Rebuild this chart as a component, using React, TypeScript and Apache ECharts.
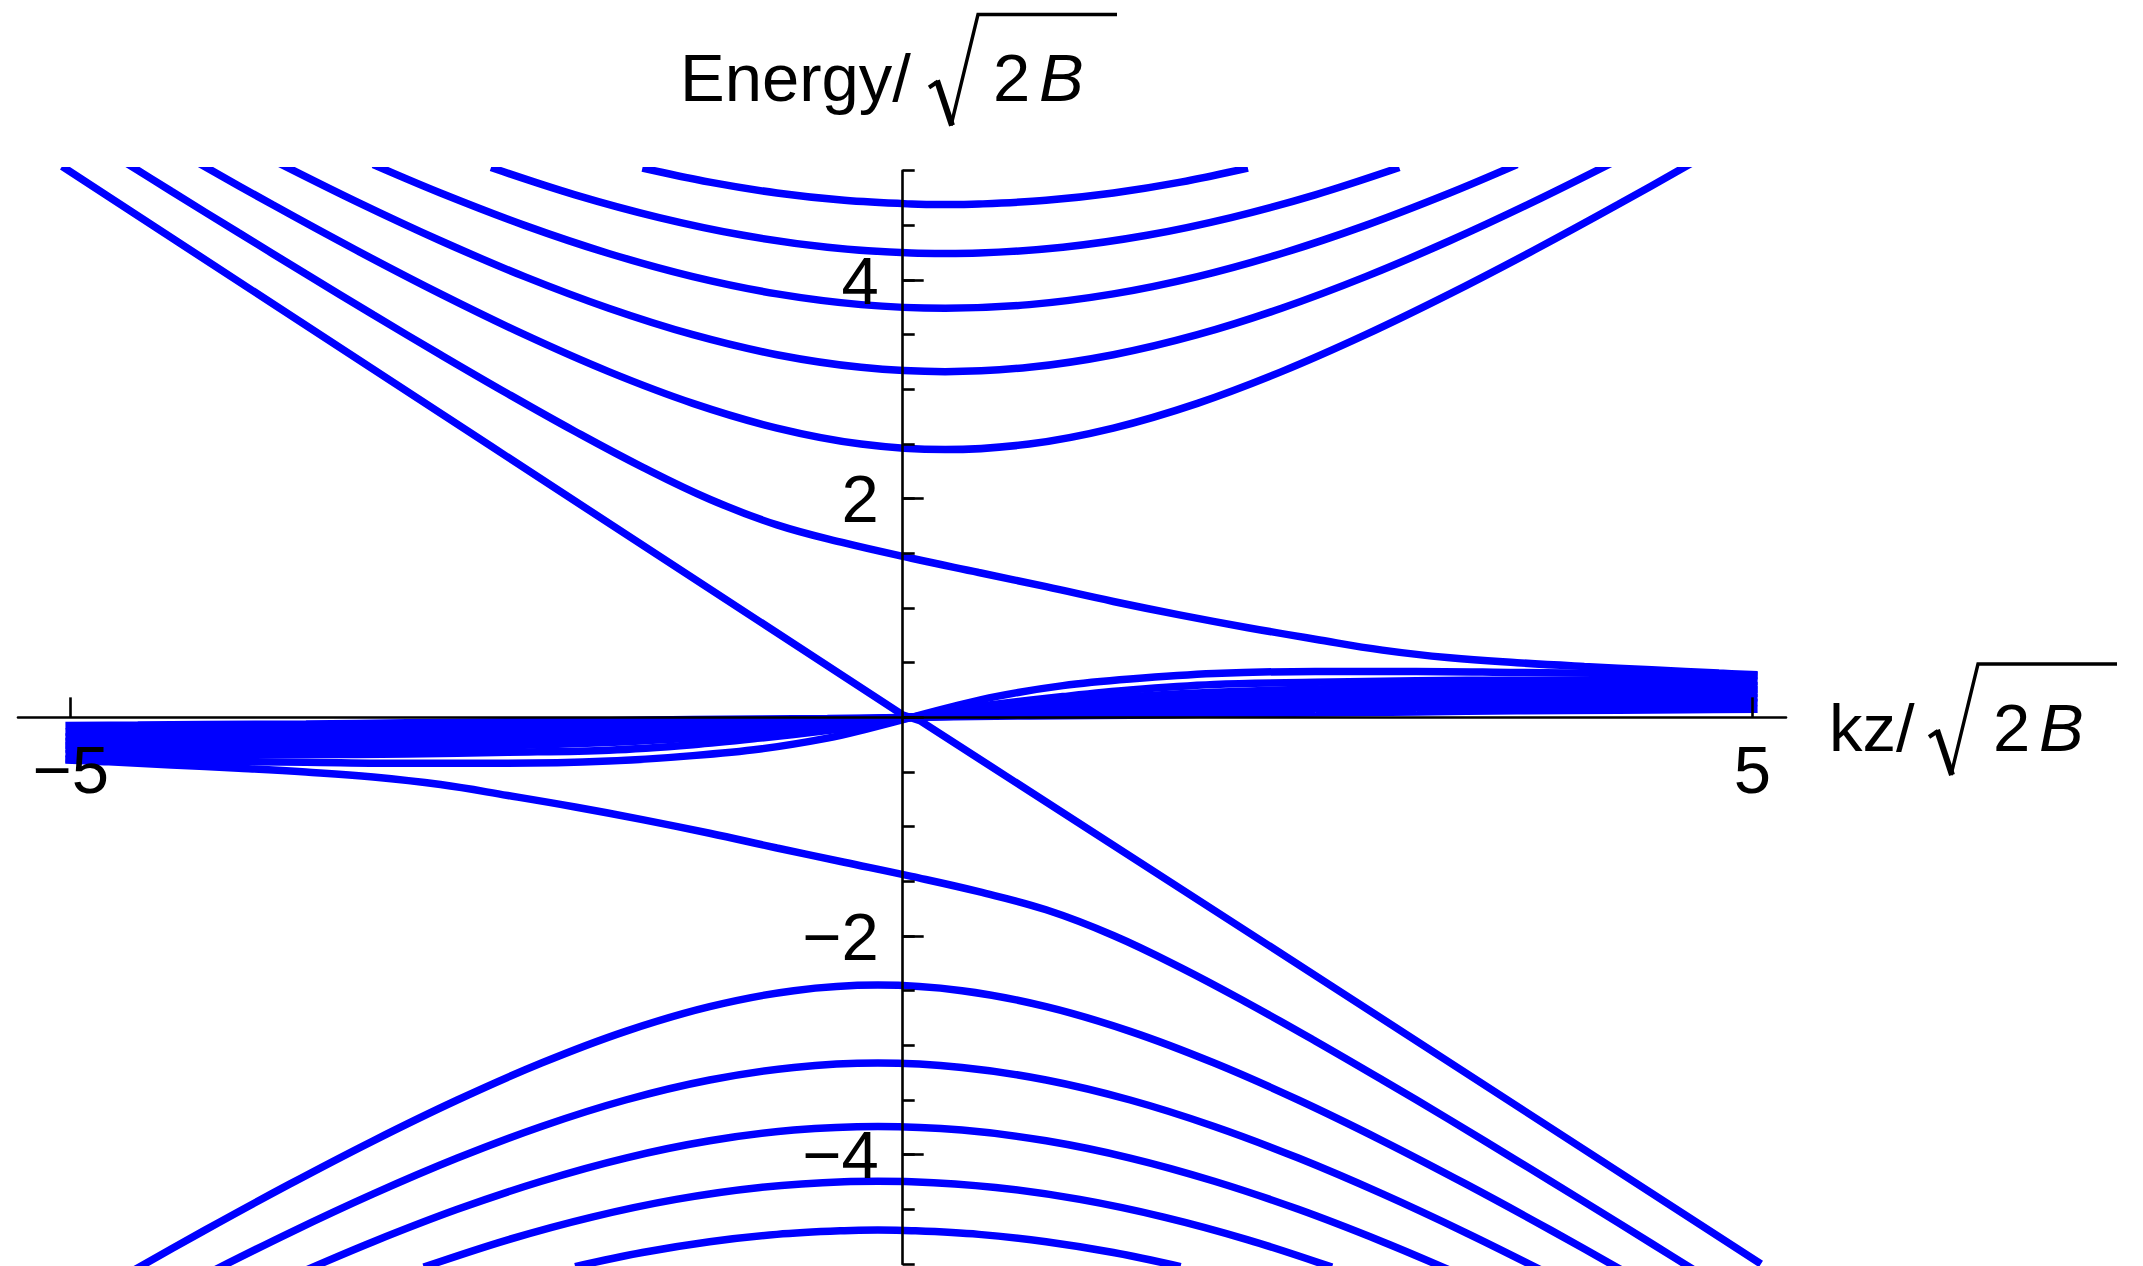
import { useEffect, useRef } from "react";
import * as echarts from "echarts";

// Landau-level spectrum: energy vs kz, both in units of sqrt(2B).
// Each branch is a list of [kz, energy] samples.

const upperLevel1: [number, number][] = [
  [-1.6, 5.024], [-1.2, 4.895], [-0.8, 4.796], [-0.4, 4.729], [0, 4.695], [0.2, 4.69],
  [0.4, 4.695], [0.8, 4.729], [1.2, 4.796], [1.6, 4.895], [2.0, 5.024],
];
const upperLevel2: [number, number][] = [
  [-2.5, 5.029], [-2.0, 4.779], [-1.5, 4.571], [-1.0, 4.409], [-0.5, 4.3], [0, 4.247], [0.2, 4.243],
  [0.4, 4.247], [0.9, 4.3], [1.4, 4.409], [1.9, 4.571], [2.4, 4.779], [2.9, 5.029],
];
const upperLevel3: [number, number][] = [
  [-3.2, 5.056], [-2.8, 4.796], [-2.3, 4.5], [-1.8, 4.243], [-1.3, 4.031], [-0.8, 3.873], [-0.3, 3.775],
  [0.2, 3.742], [0.7, 3.775], [1.2, 3.873], [1.7, 4.031], [2.2, 4.243], [2.7, 4.5], [3.2, 4.796], [3.6, 5.056],
];
const upperLevel4: [number, number][] = [
  [-3.8, 5.099], [-3.3, 4.717], [-2.8, 4.359], [-2.3, 4.031], [-1.8, 3.742], [-1.3, 3.5], [-0.8, 3.317],
  [-0.3, 3.202], [0.2, 3.162], [0.7, 3.202], [1.2, 3.317], [1.7, 3.5], [2.2, 3.742], [2.7, 4.031],
  [3.2, 4.359], [3.7, 4.717], [4.2, 5.099],
];
const upperLevel5: [number, number][] = [
  [-4.3, 5.123], [-3.8, 4.69], [-3.3, 4.272], [-2.8, 3.873], [-2.3, 3.5], [-1.8, 3.162], [-1.3, 2.872],
  [-0.8, 2.646], [-0.3, 2.5], [0.2, 2.449], [0.7, 2.5], [1.2, 2.646], [1.7, 2.872], [2.2, 3.162],
  [2.7, 3.5], [3.2, 3.873], [3.7, 4.272], [4.2, 4.69], [4.7, 5.123],
];

const lowerLevel1: [number, number][] = [
  [-2.0, -5.024], [-1.6, -4.895], [-1.2, -4.796], [-0.8, -4.729], [-0.4, -4.695], [-0.2, -4.69],
  [0, -4.695], [0.4, -4.729], [0.8, -4.796], [1.2, -4.895], [1.6, -5.024],
];
const lowerLevel2: [number, number][] = [
  [-2.9, -5.029], [-2.4, -4.779], [-1.9, -4.571], [-1.4, -4.409], [-0.9, -4.3], [-0.4, -4.247], [-0.2, -4.243],
  [0, -4.247], [0.5, -4.3], [1.0, -4.409], [1.5, -4.571], [2.0, -4.779], [2.5, -5.029],
];
const lowerLevel3: [number, number][] = [
  [-3.6, -5.056], [-3.2, -4.796], [-2.7, -4.5], [-2.2, -4.243], [-1.7, -4.031], [-1.2, -3.873], [-0.7, -3.775],
  [-0.2, -3.742], [0.3, -3.775], [0.8, -3.873], [1.3, -4.031], [1.8, -4.243], [2.3, -4.5], [2.8, -4.796], [3.2, -5.056],
];
const lowerLevel4: [number, number][] = [
  [-4.2, -5.099], [-3.7, -4.717], [-3.2, -4.359], [-2.7, -4.031], [-2.2, -3.742], [-1.7, -3.5], [-1.2, -3.317],
  [-0.7, -3.202], [-0.2, -3.162], [0.3, -3.202], [0.8, -3.317], [1.3, -3.5], [1.8, -3.742], [2.3, -4.031],
  [2.8, -4.359], [3.3, -4.717], [3.8, -5.099],
];
const lowerLevel5: [number, number][] = [
  [-4.7, -5.123], [-4.2, -4.69], [-3.7, -4.272], [-3.2, -3.873], [-2.7, -3.5], [-2.2, -3.162], [-1.7, -2.872],
  [-1.2, -2.646], [-0.7, -2.5], [-0.2, -2.449], [0.3, -2.5], [0.8, -2.646], [1.3, -2.872], [1.8, -3.162],
  [2.3, -3.5], [2.8, -3.873], [3.3, -4.272], [3.8, -4.69], [4.3, -5.123],
];

// Branches that bend into the near-zero band
const upperHybrid: [number, number][] = [
  [-4.8, 5.196], [-4.4, 4.812], [-4.0, 4.432], [-3.6, 4.055], [-3.2, 3.682], [-2.8, 3.317], [-2.4, 2.96],
  [-2.0, 2.615], [-1.6, 2.289], [-1.2, 1.995], [-0.8, 1.76], [-0.4, 1.595], [0, 1.455], [0.4, 1.325],
  [0.8, 1.195], [1.2, 1.06], [1.6, 0.935], [2.0, 0.82], [2.4, 0.715], [2.8, 0.615], [3.2, 0.545],
  [3.6, 0.5], [4.0, 0.465], [4.4, 0.435], [4.8, 0.405], [5.03, 0.39],
];
const lowerHybrid: [number, number][] = [
  [-5.03, -0.39], [-4.8, -0.405], [-4.4, -0.435], [-4.0, -0.465], [-3.6, -0.5], [-3.2, -0.545],
  [-2.8, -0.615], [-2.4, -0.715], [-2.0, -0.82], [-1.6, -0.935], [-1.2, -1.06], [-0.8, -1.195], [-0.4, -1.325],
  [0, -1.455], [0.4, -1.595], [0.8, -1.76], [1.2, -1.995], [1.6, -2.289], [2.0, -2.615], [2.4, -2.96],
  [2.8, -3.317], [3.2, -3.682], [3.6, -4.055], [4.0, -4.432], [4.4, -4.812], [4.8, -5.196],
];

// Chiral branch
const chiralLevel: [number, number][] = [
  [-5.05, 5.04], [-2.5, 2.48], [-0.05, 0.02], [0.05, -0.03], [2.5, -2.46], [5.05, -5.0],
];

// Dense near-zero band, kz > 0
const bandKzRight = [0, 0.25, 0.5, 0.9, 1.3, 1.8, 2.4, 3.0, 3.6, 4.2, 4.6, 5.03];
const bandRight: number[][] = [
  [0, 0.10, 0.19, 0.29, 0.35, 0.40, 0.42, 0.42, 0.41, 0.40, 0.39, 0.38],
  [0, 0.07, 0.12, 0.19, 0.25, 0.30, 0.32, 0.335, 0.34, 0.34, 0.335, 0.33],
  [0, 0.05, 0.09, 0.14, 0.19, 0.23, 0.26, 0.28, 0.29, 0.295, 0.295, 0.29],
  [0, 0.035, 0.07, 0.11, 0.15, 0.185, 0.21, 0.23, 0.245, 0.25, 0.255, 0.255],
  [0, 0.025, 0.05, 0.08, 0.11, 0.14, 0.165, 0.185, 0.2, 0.21, 0.215, 0.22],
  [0, 0.015, 0.03, 0.055, 0.08, 0.1, 0.12, 0.14, 0.155, 0.165, 0.175, 0.18],
  [0, 0.01, 0.02, 0.035, 0.05, 0.065, 0.08, 0.095, 0.11, 0.12, 0.13, 0.135],
  [0, 0.005, 0.01, 0.015, 0.02, 0.03, 0.04, 0.05, 0.06, 0.065, 0.07, 0.075],
];

// Dense near-zero band, kz < 0
const bandKzLeft = [0, -0.25, -0.5, -0.9, -1.3, -1.8, -2.4, -3.0, -3.6, -4.2, -4.6, -5.03];
const bandLeft: number[][] = [
  [0, -0.10, -0.19, -0.29, -0.35, -0.40, -0.42, -0.42, -0.41, -0.40, -0.39, -0.38],
  [0, -0.07, -0.12, -0.19, -0.25, -0.30, -0.32, -0.335, -0.34, -0.34, -0.335, -0.33],
  [0, -0.05, -0.09, -0.14, -0.19, -0.23, -0.26, -0.28, -0.29, -0.295, -0.295, -0.29],
  [0, -0.035, -0.07, -0.11, -0.15, -0.185, -0.21, -0.23, -0.245, -0.25, -0.255, -0.255],
  [0, -0.025, -0.05, -0.08, -0.11, -0.14, -0.165, -0.185, -0.2, -0.21, -0.215, -0.22],
  [0, -0.015, -0.03, -0.055, -0.08, -0.1, -0.12, -0.14, -0.155, -0.165, -0.175, -0.18],
  [0, -0.01, -0.02, -0.035, -0.05, -0.065, -0.08, -0.095, -0.11, -0.12, -0.13, -0.135],
  [0, -0.005, -0.01, -0.015, -0.02, -0.03, -0.04, -0.05, -0.06, -0.065, -0.07, -0.075],
];

// Axis ranges / tick steps
const kzRange = { min: -5.312, max: 5.199 };
const kzLabelRange = { min: -5, max: 5, step: 10 };
const energyRange = { min: -5, max: 5, minorStep: 0.5 };
const energyLabelRange = { min: -4, max: 4, step: 2 };

const FONT = "'Liberation Sans', Arial, Helvetica, sans-serif";
const LINE_BLUE = "#0000ff";

const signed = (v: number) => (v === 0 ? "" : v < 0 ? `\u2212${Math.abs(v)}` : `${v}`);

function sqrtLabel(prefix: string, x0: number, yMid: number, rootX: number) {
  // radical glyph drawn as strokes, followed by "2 B"
  const base = yMid + 24;
  const stroke = (pts: number[][], w: number) => ({
    type: "polyline",
    silent: true,
    shape: { points: pts },
    style: { stroke: "#000", lineWidth: w, fill: null, lineJoin: "miter", lineCap: "butt" },
  });
  return [
    {
      type: "text",
      x: x0,
      y: yMid,
      silent: true,
      style: { text: prefix, font: `67px ${FONT}`, fill: "#000", align: "left", verticalAlign: "middle" },
    },
    stroke([[rootX, base - 14], [rootX + 9, base - 20]], 4),
    stroke([[rootX + 8, base - 21], [rootX + 23, base + 24]], 6),
    stroke([[rootX + 22, base + 24], [rootX + 49, base - 87], [rootX + 188, base - 87]], 3.4),
    {
      type: "text",
      x: rootX + 64,
      y: yMid,
      silent: true,
      style: { text: "2", font: `67px ${FONT}`, fill: "#000", align: "left", verticalAlign: "middle" },
    },
    {
      type: "text",
      x: rootX + 110,
      y: yMid,
      silent: true,
      style: { text: "B", font: `italic 67px ${FONT}`, fill: "#000", align: "left", verticalAlign: "middle" },
    },
  ];
}

export default function App() {
  const ref = useRef<HTMLDivElement>(null);

  useEffect(() => {
    if (!ref.current) return;
    const chart = echarts.init(ref.current, undefined, { renderer: "svg" });

    const branches: [number, number][][] = [
      upperLevel1, upperLevel2, upperLevel3, upperLevel4, upperLevel5,
      lowerLevel1, lowerLevel2, lowerLevel3, lowerLevel4, lowerLevel5,
    ];
    bandRight.forEach((vals) => branches.push(bandKzRight.map((k, i) => [k, vals[i]] as [number, number])));
    bandLeft.forEach((vals) => branches.push(bandKzLeft.map((k, i) => [k, vals[i]] as [number, number])));

    const axisLineStyle = { color: "#000", width: 2.6 };
    const labelStyle = { fontSize: 67, fontFamily: FONT, color: "#000" };
    // vertical axis sits slightly left of kz = 0
    const yAxisShift = 0.0523;
    const plotTop = 170.7;
    const plotHeight = 1093.3;
    const zeroY = plotTop + plotHeight / 2; // pixel row of energy 0
    const axisX = 902.7; // pixel column of the vertical axis

    const lineSeries = (pts: [number, number][], smooth: number | boolean) => ({
      type: "line",
      data: pts,
      xAxisIndex: 0,
      yAxisIndex: 0,
      showSymbol: false,
      symbol: "none",
      smooth,
      silent: true,
      clip: true,
      lineStyle: { color: LINE_BLUE, width: 7.5, cap: "butt" },
    });

    const option: any = {
      animation: false,
      backgroundColor: "#fff",
      grid: [
        // plotting area with axis lines and minor ticks
        { left: 18, top: plotTop, width: 1768, height: plotHeight, containLabel: false, outerBoundsMode: "none" },
        // kz tick marks and labels (bottom edge on energy 0)
        { left: 70.7, top: plotTop, width: 1681.6, height: zeroY - plotTop, containLabel: false, outerBoundsMode: "none" },
        // energy major ticks and labels (left edge on the vertical axis)
        { left: axisX, top: 280.0, width: 100, height: 874.7, containLabel: false, outerBoundsMode: "none" },
      ],
      xAxis: [
        {
          gridIndex: 0,
          type: "value",
          min: kzRange.min,
          max: kzRange.max,
          position: "bottom",
          z: 5,
          axisLine: { onZero: true, onZeroAxisIndex: 0, lineStyle: axisLineStyle },
          axisTick: { show: false },
          axisLabel: { show: false },
          splitLine: { show: false },
        },
        {
          gridIndex: 0,
          type: "value",
          min: kzRange.min + yAxisShift,
          max: kzRange.max + yAxisShift,
          show: false,
          position: "top",
        },
        {
          gridIndex: 1,
          type: "value",
          min: kzLabelRange.min,
          max: kzLabelRange.max,
          interval: kzLabelRange.step,
          position: "bottom",
          z: 5,
          axisLine: { show: false, onZero: false },
          axisTick: { show: true, inside: true, length: 20, lineStyle: axisLineStyle },
          axisLabel: { show: true, formatter: signed, margin: 19, ...labelStyle },
          splitLine: { show: false },
        },
        { gridIndex: 2, type: "value", min: 0, max: 1, show: false },
      ],
      yAxis: [
        {
          gridIndex: 0,
          type: "value",
          min: energyRange.min,
          max: energyRange.max,
          interval: energyRange.minorStep,
          position: "left",
          z: 5,
          axisLine: { onZero: true, onZeroAxisIndex: 1, lineStyle: axisLineStyle },
          axisTick: { show: true, inside: true, length: 12, lineStyle: axisLineStyle },
          axisLabel: { show: false },
          splitLine: { show: false },
        },
        { gridIndex: 1, type: "value", min: 0, max: 1, show: false },
        {
          gridIndex: 2,
          type: "value",
          min: energyLabelRange.min,
          max: energyLabelRange.max,
          interval: energyLabelRange.step,
          position: "left",
          z: 5,
          axisLine: { show: false, onZero: false },
          axisTick: { show: true, inside: true, length: 21, lineStyle: axisLineStyle },
          axisLabel: { show: true, formatter: signed, margin: 24, padding: [0, 0, 12, 0], ...labelStyle },
          splitLine: { show: false },
        },
      ],
      graphic: [
        ...sqrtLabel("Energy/", 680, 77.5, 929),
        ...sqrtLabel("kz/", 1829, 727, 1929),
      ],
      series: [
        ...branches.map((pts) => lineSeries(pts, 0.35)),
        lineSeries(upperHybrid, 0.4),
        lineSeries(lowerHybrid, 0.4),
        lineSeries(chiralLevel, false),
      ],
    };

    chart.setOption(option);
    return () => chart.dispose();
  }, []);

  return (
    <div
      ref={ref}
      style={{ position: "fixed", left: 0, top: 0, width: 2143, height: 1266, background: "#fff" }}
    />
  );
}
